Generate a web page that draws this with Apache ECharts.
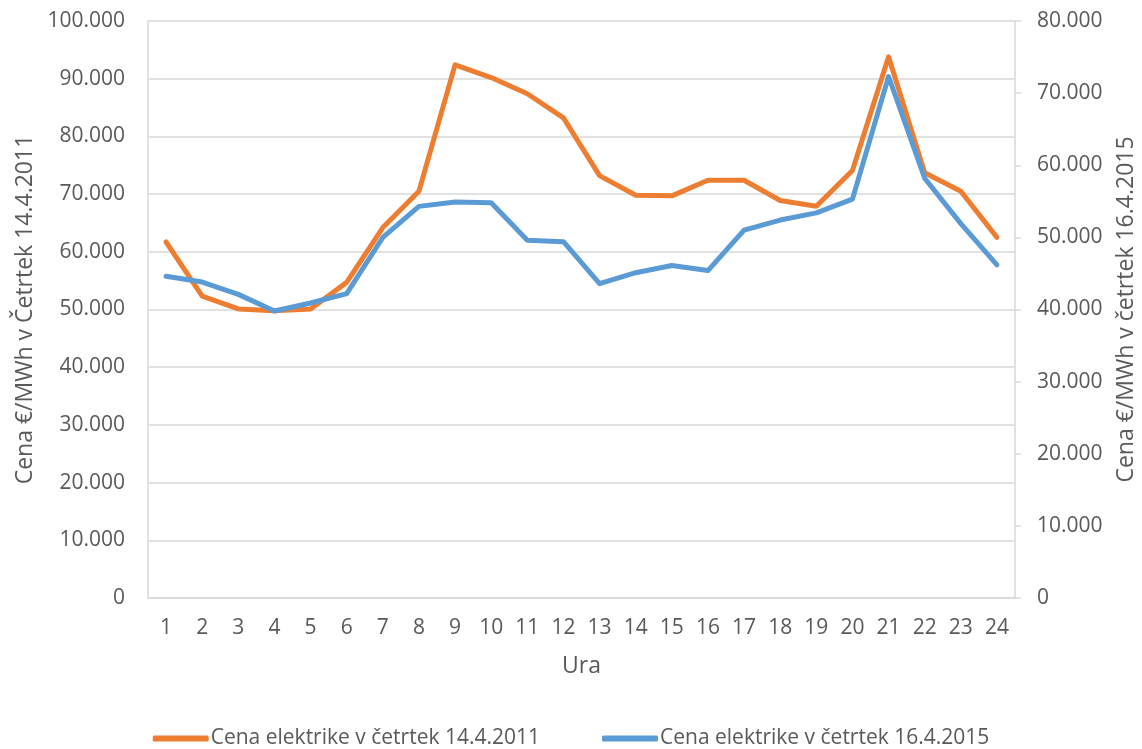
<!DOCTYPE html>
<html><head><meta charset="utf-8">
<script src="https://cdn.jsdelivr.net/npm/echarts@6/dist/echarts.min.js"></script>
<style>html,body{margin:0;padding:0;background:#fff}#c{width:1142px;height:749px}</style>
</head><body><div id="c"></div>
<script>
const hours = ['1','2','3','4','5','6','7','8','9','10','11','12','13','14','15','16','17','18','19','20','21','22','23','24'];
const price2011 = [61.7,52.3,50.1,49.8,50.1,54.7,64.2,70.5,92.4,90.2,87.4,83.2,73.2,69.8,69.7,72.4,72.4,68.9,67.9,74.1,93.8,73.7,70.5,62.5];
const price2015 = [44.6,43.8,42.1,39.8,40.9,42.2,50.0,54.3,54.9,54.8,49.6,49.4,43.6,45.1,46.1,45.4,51.0,52.4,53.4,55.3,72.3,58.2,51.9,46.2];
const leftTicks = {min:0,max:100,interval:10};
const rightTicks = {min:0,max:80,interval:10};
const names = ['Cena elektrike v četrtek 14.4.2011','Cena elektrike v četrtek 16.4.2015'];

const fmt = v => v === 0 ? '0' : v + '.000';
const font = '"Open Sans", "Liberation Sans", sans-serif';
const txt = {color:'#595959', fontFamily:font, fontSize:21};
const nameTxt = {color:'#595959', fontFamily:font, fontSize:23};
const chart = echarts.init(document.getElementById('c'));
chart.setOption({
  animation:false,
  textStyle:{fontFamily:font},
  grid:{left:148,right:127,top:21,bottom:151,containLabel:false,outerBoundsMode:'none'},
  legend:{
    top:728, left:'center', itemGap:62, itemWidth:56, itemHeight:6, padding:0,
    icon:'roundRect',
    textStyle:Object.assign({},txt,{padding:[0,0,0,-3]}),
    data:names
  },
  xAxis:{
    type:'category', data:hours, boundaryGap:true,
    name:'Ura', nameLocation:'middle', nameGap:57,
    nameTextStyle:nameTxt,
    axisLine:{lineStyle:{color:'#d9d9d9',width:1.5}},
    axisTick:{show:false},
    axisLabel:Object.assign({margin:20},txt)
  },
  yAxis:[{
    type:'value', min:leftTicks.min, max:leftTicks.max, interval:leftTicks.interval,
    name:'Cena €/MWh v Četrtek 14.4.2011', nameLocation:'middle', nameGap:110,
    nameTextStyle:nameTxt,
    axisLine:{show:true,lineStyle:{color:'#d9d9d9',width:1.5}},
    axisTick:{show:false},
    splitLine:{lineStyle:{color:'#d9d9d9',width:1.5}},
    axisLabel:Object.assign({margin:23,formatter:fmt},txt)
  },{
    type:'value', min:rightTicks.min, max:rightTicks.max, interval:rightTicks.interval,
    name:'Cena €/MWh v četrtek 16.4.2015', nameLocation:'middle', nameGap:100, nameRotate:90,
    nameTextStyle:nameTxt,
    axisLine:{show:true,lineStyle:{color:'#d9d9d9',width:1.5}},
    axisTick:{show:true,length:6,lineStyle:{color:'#d9d9d9',width:1.5}},
    splitLine:{show:false},
    axisLabel:Object.assign({margin:22,formatter:fmt},txt)
  }],
  series:[{
    name:names[0], type:'line', yAxisIndex:0, data:price2011,
    symbol:'none', lineStyle:{color:'#ED7D31',width:5,join:'round',cap:'round'},
    itemStyle:{color:'#ED7D31'}
  },{
    name:names[1], type:'line', yAxisIndex:1, data:price2015,
    symbol:'none', lineStyle:{color:'#5B9BD5',width:5,join:'round',cap:'round'},
    itemStyle:{color:'#5B9BD5'}
  }]
});
</script></body></html>
